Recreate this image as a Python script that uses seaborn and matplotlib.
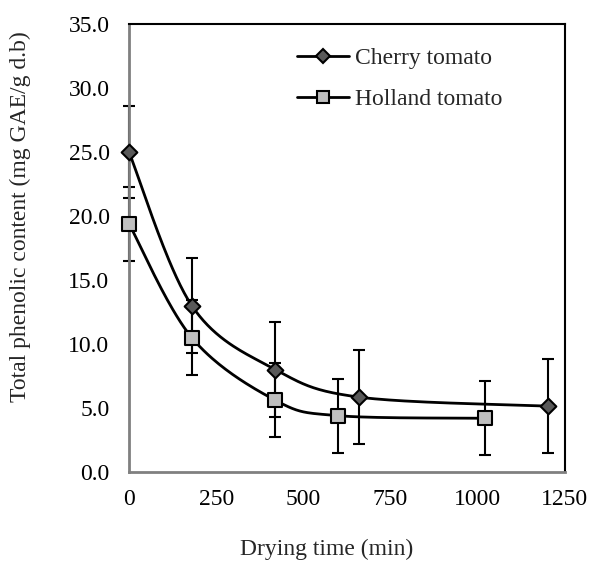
import numpy as np
import pandas as pd
import matplotlib
matplotlib.use("Agg")
import matplotlib.pyplot as plt
from matplotlib.lines import Line2D
import seaborn as sns

# data
cherry_time = [0, 180, 420, 660, 1200]
cherry_tpc = [25.0, 13.0, 8.0, 5.85, 5.15]
cherry_err = [3.6, 3.7, 3.7, 3.7, 3.7]

holland_time = [0, 180, 420, 600, 1020]
holland_tpc = [19.4, 10.5, 5.6, 4.4, 4.2]
holland_err = [2.9, 2.9, 2.9, 2.9, 2.9]

x_ticks = [0, 250, 500, 750, 1000, 1250]
y_ticks = [0, 5, 10, 15, 20, 25, 30, 35]


def smooth(xs, ys, n=40):
    # catmull-rom, like the "smoothed line" option of a spreadsheet
    xs = np.asarray(xs, float)
    ys = np.asarray(ys, float)
    px = np.r_[xs[0], xs, xs[-1]]
    py = np.r_[ys[0], ys, ys[-1]]
    outx, outy = [], []
    t = np.linspace(0, 1, n)
    for i in range(1, len(px) - 2):
        for p, out in ((px, outx), (py, outy)):
            p0, p1, p2, p3 = p[i - 1], p[i], p[i + 1], p[i + 2]
            out.extend(0.5 * ((2 * p1) + (-p0 + p2) * t
                              + (2 * p0 - 5 * p1 + 4 * p2 - p3) * t ** 2
                              + (-p0 + 3 * p1 - 3 * p2 + p3) * t ** 3))
    return outx, outy


sns.set_theme(style="white")
plt.rcParams["font.family"] = ["Liberation Serif", "DejaVu Serif"]
plt.rcParams["font.size"] = 17

fig = plt.figure(figsize=(5.9, 5.63), dpi=100)
ax = fig.add_axes([0.2186, 0.1616, 0.739, 0.7958])

series = [
    ("Cherry tomato", cherry_time, cherry_tpc, cherry_err, "D", "#595959", 8),
    ("Holland tomato", holland_time, holland_tpc, holland_err, "s", "#bfbfbf", 10),
]

handles = []
for name, xs, ys, err, mk, fc, ms in series:
    sx, sy = smooth(xs, ys)
    curve = pd.DataFrame({"x": sx, "y": sy})
    sns.lineplot(data=curve, x="x", y="y", sort=False, color="black",
                 linewidth=2, ax=ax, zorder=2)
    eb = ax.errorbar(xs, ys, yerr=err, fmt="none", ecolor="black",
                     elinewidth=1.5, capsize=4.5, capthick=1.5, zorder=1)
    for art in eb.lines[1] + eb.lines[2]:
        art.set_clip_on(False)
    pts = pd.DataFrame({"x": xs, "y": ys})
    sns.scatterplot(data=pts, x="x", y="y", marker=mk, s=ms ** 2, color=fc,
                    edgecolor="black", linewidth=1.5, ax=ax, zorder=3,
                    clip_on=False)
    handles.append(Line2D([], [], color="black", linewidth=2, marker=mk,
                          markersize=ms * 0.85, markerfacecolor=fc,
                          markeredgecolor="black", markeredgewidth=1.5,
                          label=name))

ax.set_xlim(0, 1250)
ax.set_ylim(0, 35)
ax.set_xticks(x_ticks)
ax.set_yticks(y_ticks)
ax.set_yticklabels([f"{v:.1f}" for v in y_ticks])
ax.tick_params(axis="both", length=0, labelsize=17, colors="black")
ax.tick_params(axis="y", pad=14)
ax.tick_params(axis="x", pad=12)

for side in ["left", "bottom"]:
    ax.spines[side].set_color("#808080")
    ax.spines[side].set_linewidth(2)
for side in ["top", "right"]:
    ax.spines[side].set_color("black")
    ax.spines[side].set_linewidth(1.5)

ax.set_xlabel("Drying time (min)", fontsize=17)
ax.set_ylabel("Total phenolic content (mg GAE/g d.b)", fontsize=17)
ax.xaxis.set_label_coords(0.454, -0.15)
ax.yaxis.set_label_coords(-0.225, 0.571)

ax.legend(handles=handles, loc="upper left", bbox_to_anchor=(0.385, 0.947),
          frameon=False, fontsize=17, handlelength=2.2, handletextpad=0.25,
          labelspacing=0.83, borderpad=0, borderaxespad=0)

fig.savefig("out.png", dpi=100)
